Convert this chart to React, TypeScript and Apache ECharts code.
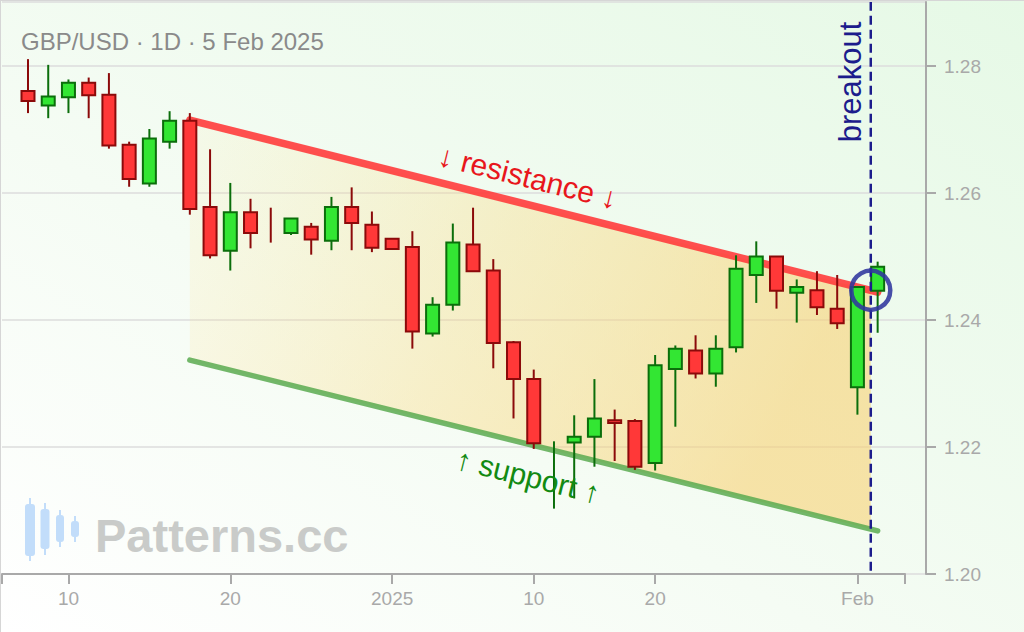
import React, { useEffect, useRef } from "react";
import * as echarts from "echarts";

// ---- data (daily GBP/USD candles) ----
const dates = [
  "2024-12-06", "2024-12-09", "2024-12-10", "2024-12-11", "2024-12-12", "2024-12-13",
  "2024-12-16", "2024-12-17", "2024-12-18", "2024-12-19", "2024-12-20", "2024-12-23",
  "2024-12-24", "2024-12-25", "2024-12-26", "2024-12-27", "2024-12-30", "2024-12-31",
  "2025-01-01", "2025-01-02", "2025-01-03", "2025-01-06", "2025-01-07", "2025-01-08",
  "2025-01-09", "2025-01-10", "2025-01-13", "2025-01-14", "2025-01-15", "2025-01-16",
  "2025-01-17", "2025-01-20", "2025-01-21", "2025-01-22", "2025-01-23", "2025-01-24",
  "2025-01-27", "2025-01-28", "2025-01-29", "2025-01-30", "2025-01-31", "2025-02-03",
  "2025-02-04",
];
const opens = [
  1.2761, 1.2738, 1.2751, 1.2774, 1.2755, 1.2676, 1.2615, 1.2681, 1.2714, 1.2578,
  1.2509, 1.257, 1.255, 1.2537, 1.2547, 1.2525, 1.2578, 1.255, 1.2528, 1.2515,
  1.2379, 1.2424, 1.2519, 1.2478, 1.2365, 1.2307, 1.22, 1.2207, 1.2216, 1.2242,
  1.2241, 1.2175, 1.2323, 1.2352, 1.2316, 1.2357, 1.2471, 1.25, 1.2443, 1.2447,
  1.2418, 1.2294, 1.2446,
];
const closes = [
  1.2745, 1.2752, 1.2774, 1.2754, 1.2675, 1.2622, 1.2686, 1.2714, 1.2575, 1.2502,
  1.257, 1.2537, 1.25497, 1.256, 1.2527, 1.2578, 1.2553, 1.2514, 1.2512, 1.2382,
  1.2424, 1.2522, 1.2477, 1.2364, 1.2307, 1.2206, 1.22003, 1.2216, 1.2245, 1.2238,
  1.2169, 1.2329, 1.2355, 1.2316, 1.2355, 1.2481, 1.25, 1.2446, 1.2452, 1.242,
  1.2395, 1.2452, 1.2484,
];
const lows = [
  1.2726, 1.2718, 1.2726, 1.2718, 1.267, 1.261, 1.261, 1.267, 1.2566, 1.2497,
  1.2478, 1.2513, 1.2522, 1.2534, 1.2503, 1.251, 1.251, 1.2507, 1.2512, 1.2355,
  1.2374, 1.2415, 1.2477, 1.2324, 1.2245, 1.2197, 1.2103, 1.2119, 1.2169, 1.2178,
  1.2164, 1.2163, 1.2232, 1.2308, 1.2295, 1.2349, 1.2427, 1.2418, 1.2396, 1.2408,
  1.2386, 1.2251, 1.238,
];
const highs = [
  1.2811, 1.2802, 1.2779, 1.2782, 1.2789, 1.2681, 1.2701, 1.2729, 1.2726, 1.2669,
  1.2616, 1.2591, 1.2577, 1.256, 1.2553, 1.2594, 1.2609, 1.2571, 1.2528, 1.254,
  1.2436, 1.2552, 1.2577, 1.2496, 1.2367, 1.2322, 1.2209, 1.225, 1.2307, 1.2259,
  1.2244, 1.2345, 1.236, 1.2376, 1.2376, 1.2502, 1.2524, 1.25, 1.2464, 1.2477,
  1.2471, 1.2453, 1.2492,
];

const tickIndexes = [2, 10, 18, 25, 31, 41];
const tickLabels = ["10", "20", "2025", "10", "20", "Feb"];

const yMin = 1.2;
const yMax = 1.2901;
const yStep = 0.02;

// channel lines: [dayIndex, price]
const resistanceLine = [
  [8, 1.2715],
  [42, 1.2444],
];
const supportLine = [
  [8, 1.2337],
  [42, 1.2068],
];
const breakoutIndex = 41.66;
const breakoutPrice = 1.2447;

// x scale range (day index units)
const xMin = -1.285;
const xMaxPlot = 44.39;
const xMaxAxis = 43.35;

const FONT = "'Liberation Sans', Arial, Helvetica, sans-serif";

const lerp = (line: number[][], x: number) =>
  line[0][1] + ((line[1][1] - line[0][1]) * (x - line[0][0])) / (line[1][0] - line[0][0]);

export default function App() {
  const ref = useRef<HTMLDivElement>(null);

  useEffect(() => {
    if (!ref.current) return;
    const chart = echarts.init(ref.current, undefined, { renderer: "svg" });

    const candleData = dates.map((_, i) => [i, opens[i], closes[i], lows[i], highs[i]]);

    const option: any = {
      animation: false,
      grid: [
        { left: 2, right: 98, top: 2, bottom: 58 },
        { left: 2, right: 119, top: 2, bottom: 58 },
      ],
      xAxis: [
        {
          type: "value",
          gridIndex: 0,
          min: xMin,
          max: xMaxPlot,
          show: false,
          axisLine: { onZero: false },
          splitLine: { show: false },
        },
        {
          type: "value",
          gridIndex: 1,
          min: xMin,
          max: xMaxAxis,
          axisLine: { show: true, onZero: false, lineStyle: { color: "#a9a9a9", width: 2 } },
          axisTick: {
            show: true,
            length: 10,
            customValues: [xMin, ...tickIndexes, xMaxAxis],
            lineStyle: { color: "#a9a9a9", width: 2 },
          },
          axisLabel: {
            show: true,
            customValues: tickIndexes,
            formatter: (v: number) => {
              const k = tickIndexes.indexOf(Math.round(v));
              return k >= 0 ? tickLabels[k] : "";
            },
            color: "#a9a9a9",
            fontSize: 19,
            fontFamily: FONT,
            margin: 15,
          },
          splitLine: { show: false },
        },
      ],
      yAxis: [
        {
          type: "value",
          gridIndex: 0,
          position: "right",
          min: yMin,
          max: yMax,
          interval: yStep,
          axisLine: { show: true, onZero: false, lineStyle: { color: "#a9a9a9", width: 2 } },
          axisTick: { show: true, length: 10, lineStyle: { color: "#a9a9a9", width: 2 } },
          axisLabel: {
            color: "#a9a9a9",
            fontSize: 19,
            fontFamily: FONT,
            margin: 18,
            showMaxLabel: false,
            formatter: (v: number) => v.toFixed(2),
          },
          splitLine: { show: true, lineStyle: { color: "#dcdcdc", width: 1.5 } },
        },
        {
          type: "value",
          gridIndex: 1,
          min: yMin,
          max: yMax,
          show: false,
          axisLine: { show: false, onZero: false },
          axisTick: { show: false },
          axisLabel: { show: false },
          splitLine: { show: false },
        },
      ],
      series: [
        {
          type: "custom",
          name: "channel",
          xAxisIndex: 0,
          yAxisIndex: 0,
          z: 1,
          silent: true,
          data: [[resistanceLine[0][0], lerp(resistanceLine, resistanceLine[0][0])]],
          renderItem: (params: any, api: any) => {
            const x0 = resistanceLine[0][0];
            const x1 = breakoutIndex;
            const pts = [
              [x0, lerp(resistanceLine, x0)],
              [x1, lerp(resistanceLine, x1)],
              [x1, lerp(supportLine, x1)],
              [x0, lerp(supportLine, x0)],
            ].map((p) => api.coord(p));
            return {
              type: "polygon",
              shape: { points: pts },
              style: {
                fill: new echarts.graphic.LinearGradient(0, 0, 1, 0.3, [
                  { offset: 0, color: "rgba(252,228,150,0.10)" },
                  { offset: 0.5, color: "rgba(250,215,120,0.35)" },
                  { offset: 1, color: "rgba(248,208,112,0.58)" },
                ]),
              },
            };
          },
        },
        {
          type: "line",
          name: "support",
          xAxisIndex: 0,
          yAxisIndex: 0,
          z: 2,
          silent: true,
          symbol: "none",
          data: supportLine,
          lineStyle: { color: "rgba(90,170,80,0.85)", width: 5.5, cap: "round" },
        },
        {
          type: "line",
          name: "resistance",
          xAxisIndex: 0,
          yAxisIndex: 0,
          z: 2,
          silent: true,
          symbol: "none",
          data: resistanceLine,
          lineStyle: { color: "rgba(255,60,60,0.9)", width: 7.5, cap: "round" },
        },
        {
          type: "custom",
          name: "GBP/USD",
          xAxisIndex: 0,
          yAxisIndex: 0,
          z: 3,
          data: candleData,
          encode: { x: 0, y: [1, 2, 3, 4] },
          renderItem: (params: any, api: any) => {
            const x = api.value(0);
            const o = api.value(1);
            const c = api.value(2);
            const l = api.value(3);
            const h = api.value(4);
            const up = c > o;
            const dark = up ? "#0b6e0b" : "#8b0a0a";
            const fill = up ? "#33e633" : "#ff3838";
            const pO = api.coord([x, o]);
            const pC = api.coord([x, c]);
            const pL = api.coord([x, l]);
            const pH = api.coord([x, h]);
            const w = 13;
            const top = Math.min(pO[1], pC[1]);
            const bh = Math.abs(pO[1] - pC[1]);
            const children: any[] = [
              {
                type: "line",
                shape: { x1: pH[0], y1: pH[1], x2: pL[0], y2: pL[1] },
                style: { stroke: dark, lineWidth: 2 },
              },
            ];
            if (bh >= 0.5) {
              children.push({
                type: "rect",
                shape: { x: pO[0] - w / 2, y: top, width: w, height: bh },
                style: { fill, stroke: dark, lineWidth: 2 },
              });
            }
            return { type: "group", children };
          },
        },
        {
          type: "line",
          name: "breakout",
          xAxisIndex: 0,
          yAxisIndex: 0,
          z: 4,
          silent: true,
          symbol: "none",
          data: [
            [breakoutIndex, yMin + 0.0005],
            [breakoutIndex, yMax],
          ],
          lineStyle: { color: "#1c1c8c", width: 2.5, type: [9, 5] },
        },
        {
          type: "scatter",
          name: "breakout point",
          xAxisIndex: 0,
          yAxisIndex: 0,
          z: 5,
          silent: true,
          symbol: "circle",
          symbolSize: 39,
          data: [[breakoutIndex, breakoutPrice]],
          itemStyle: {
            color: "rgba(0,0,0,0)",
            borderColor: "rgba(48,54,158,0.88)",
            borderWidth: 4.5,
            opacity: 1,
          },
        },
      ],
      graphic: [
        {
          type: "text",
          x: 21,
          y: 41,
          z: 10,
          style: {
            text: "GBP/USD · 1D · 5 Feb 2025",
            fill: "#8a8a8a",
            fontSize: 24,
            fontFamily: FONT,
            align: "left",
            verticalAlign: "middle",
            textAlign: "left",
            textVerticalAlign: "middle",
          },
        },
        {
          type: "text",
          x: 528,
          y: 177,
          rotation: -14 * (Math.PI / 180),
          z: 10,
          style: {
            text: "↓ resistance ↓",
            fill: "#e8161c",
            fontSize: 30,
            fontFamily: FONT,
            align: "center",
            verticalAlign: "middle",
            textAlign: "center",
            textVerticalAlign: "middle",
          },
        },
        {
          type: "text",
          x: 528,
          y: 476,
          rotation: -13.9 * (Math.PI / 180),
          z: 10,
          style: {
            text: "↑ support ↑",
            fill: "#128a12",
            fontSize: 30,
            fontFamily: FONT,
            align: "center",
            verticalAlign: "middle",
            textAlign: "center",
            textVerticalAlign: "middle",
          },
        },
        {
          type: "text",
          x: 850,
          y: 82,
          rotation: Math.PI / 2,
          z: 10,
          style: {
            text: "breakout",
            fill: "#1c1c8c",
            fontSize: 31,
            fontFamily: FONT,
            align: "center",
            verticalAlign: "middle",
            textAlign: "center",
            textVerticalAlign: "middle",
          },
        },
        // watermark
        {
          type: "group",
          z: 0,
          silent: true,
          children: [
            { type: "line", shape: { x1: 30, y1: 498, x2: 30, y2: 561 }, style: { stroke: "#c2ddfa", lineWidth: 2 } },
            { type: "rect", shape: { x: 25, y: 504, width: 10, height: 52, r: 3 }, style: { fill: "#c2ddfa" } },
            { type: "line", shape: { x1: 45, y1: 503, x2: 45, y2: 555 }, style: { stroke: "#c2ddfa", lineWidth: 2 } },
            { type: "rect", shape: { x: 40.5, y: 509, width: 9, height: 40, r: 3 }, style: { fill: "#c2ddfa" } },
            { type: "line", shape: { x1: 60, y1: 510, x2: 60, y2: 547 }, style: { stroke: "#c2ddfa", lineWidth: 2 } },
            { type: "rect", shape: { x: 56, y: 515, width: 8, height: 27, r: 3 }, style: { fill: "#c2ddfa" } },
            { type: "line", shape: { x1: 75, y1: 516, x2: 75, y2: 542 }, style: { stroke: "#c2ddfa", lineWidth: 2 } },
            { type: "rect", shape: { x: 71, y: 521, width: 8, height: 16, r: 3 }, style: { fill: "#c2ddfa" } },
            {
              type: "text",
              x: 95,
              y: 535,
              style: {
                text: "Patterns.cc",
                fill: "#c9cbc9",
                fontSize: 47,
                fontWeight: "bold",
                fontFamily: FONT,
                align: "left",
                verticalAlign: "middle",
                textAlign: "left",
                textVerticalAlign: "middle",
              },
            },
          ],
        },
      ],
    };

    chart.setOption(option);
    return () => chart.dispose();
  }, []);

  return (
    <div
      ref={ref}
      style={{
        position: "absolute",
        left: 0,
        top: 0,
        width: 1024,
        height: 632,
        background: "linear-gradient(to top right, #ffffff 0%, #f5fcf4 40%, #e6f9e6 100%)",
        boxShadow: "inset 1px 1px 0 #d6d6d6",
      }}
    />
  );
}
